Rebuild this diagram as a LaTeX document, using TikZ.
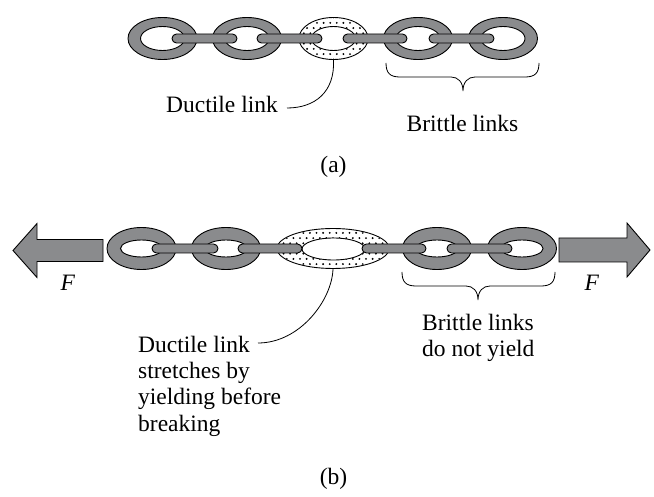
\documentclass[tikz,border=0pt]{standalone}
\usepackage{fontspec}
\setmainfont{Liberation Serif}
\newfontfamily\lblfont{Liberation Serif}
\usetikzlibrary{shapes.geometric,calc}
\definecolor{linkgrey}{RGB}{138,139,141}

% stippled fill inside an elliptic ring: centre x, centre y, x radius, y radius
\newcommand\stipplering[4]{%
  \begin{scope}
    \clip (#1,#2) ellipse [x radius=#3-0.8, y radius=#4-0.8];
    \foreach \i in {-10,...,10}{
      \foreach \j in {-5,...,5}{
        \fill ({#1+\i*6.6+mod(\j+10,2)*3.3},{#2+\j*5.2}) circle[radius=1.05pt];
      }
    }
  \end{scope}}

\begin{document}
\begin{tikzpicture}[x=1pt,y=-1pt,
  ring/.style={ellipse,draw=black,line width=0.9pt,fill=linkgrey,inner sep=0pt,
               minimum width=69pt,minimum height=42pt},
  softring/.style={ring,fill=white},
  hole/.style={ellipse,draw=black,line width=0.9pt,fill=white,inner sep=0pt},
  holeA/.style={hole,minimum width=44pt,minimum height=24pt},
  holeB/.style={hole,minimum width=42pt,minimum height=17pt},
  rod/.style={rectangle,rounded corners=4.5pt,draw=black,line width=0.9pt,
              fill=linkgrey,inner sep=0pt,minimum height=9pt},
  force/.style={draw=black,line width=0.9pt,fill=linkgrey,line join=miter},
  lbl/.style={inner sep=0pt,font=\lblfont\fontsize{23.5}{26.3}\selectfont},
  leader/.style={draw=black,line width=0.8pt},
  bracket/.style={draw=black,line width=0.8pt}
]
\useasboundingbox (0,0) rectangle (654,497);

% ---------------- (a) chain at rest ----------------
\node[ring] (a1) at (162.5,38.5) {};
\node[holeA] (ah1) at (a1) {};
\node[ring] (a2) at (247,38.5) {};
\node[holeA] (ah2) at (a2) {};
\node[softring] (a3) at (333.5,38.5) {};
\stipplering{333.5}{38.5}{34.5}{21}
\node[holeA] (ah3) at (a3) {};
\node[ring] (a4) at (418,38.5) {};
\node[holeA] (ah4) at (a4) {};
\node[ring] (a5) at (503,38.5) {};
\node[holeA] (ah5) at (a5) {};

\node[rod,minimum width=65pt] (ar1) at (204.5,38.5) {};
\node[rod,minimum width=65pt] (ar2) at (289.5,38.5) {};
\node[rod,minimum width=64pt] (ar3) at (375,38.5) {};
\node[rod,minimum width=65pt] (ar4) at (461.5,38.5) {};

\node[lbl,anchor=base west] (ductA) at (166,113) {Ductile link};
\draw[leader] (a3.south) .. controls (335,92) and (315,108) .. ($(ductA.base east)+(9,-5)$);

\draw[bracket] (386,63) .. controls (386,73) and (390,77) .. (400,77)
  -- (451,77) .. controls (458,77) and (463,82) .. (463,91)
  .. controls (463,82) and (468,77) .. (475,77)
  -- (525,77) .. controls (535,77) and (539,73) .. (539,63);
\node[lbl,anchor=base] (brittleA) at (462.5,132) {Brittle links};

\node[lbl,anchor=base] (capA) at (333.5,173) {(a)};

% ---------------- (b) chain under load ----------------
\draw[force] (13,250.5) -- (37,223.5) -- (37,239.5) -- (103,239.5)
  -- (103,261.5) -- (37,261.5) -- (37,277.5) -- cycle;
\draw[force] (650,250) -- (627,223) -- (627,238) -- (559,238)
  -- (559,262) -- (627,262) -- (627,277) -- cycle;
\node[lbl,anchor=base] (fL) at (68,291) {\textit{F}};
\node[lbl,anchor=base] (fR) at (592,291) {\textit{F}};

\node[ring] (b1) at (141.5,248.5) {};
\node[holeB] (bh1) at (b1) {};
\node[ring] (b2) at (226,248.5) {};
\node[holeB] (bh2) at (b2) {};
\node[softring,minimum width=112pt,minimum height=40pt] (b3) at (333,248.5) {};
\stipplering{333}{248.5}{56}{20}
\node[hole,minimum width=63pt,minimum height=22pt] (bh3) at (333.5,249) {};
\node[ring] (b4) at (437,248.5) {};
\node[holeB] (bh4) at (b4) {};
\node[ring] (b5) at (522,248.5) {};
\node[holeB] (bh5) at (b5) {};

\node[rod,minimum width=66pt] (br1) at (185,248.5) {};
\node[rod,minimum width=64pt] (br2) at (270,248.5) {};
\node[rod,minimum width=64pt] (br3) at (394,248.5) {};
\node[rod,minimum width=65pt] (br4) at (479.5,248.5) {};

% multi-line labels are placed by the baseline of their last line
\node[lbl,anchor=base west,align=left] (ductB) at (138,431)
  {Ductile link\\stretches by\\yielding before\\breaking};
\coordinate (ductBend) at (258,343);
\draw[leader] (b3.south) .. controls (332,300) and (300,343) .. (ductBend);

\draw[bracket] (402,272) .. controls (402,282) and (406,286) .. (416,286)
  -- (466,286) .. controls (473,286) and (478,291) .. (478,300)
  .. controls (478,291) and (483,286) .. (490,286)
  -- (541,286) .. controls (551,286) and (555,282) .. (555,272);
\node[lbl,anchor=base west,align=left] (brittleB) at (422,357)
  {Brittle links\\do not yield};

\node[lbl,anchor=base] (capB) at (333.5,484) {(b)};
\end{tikzpicture}
\end{document}
